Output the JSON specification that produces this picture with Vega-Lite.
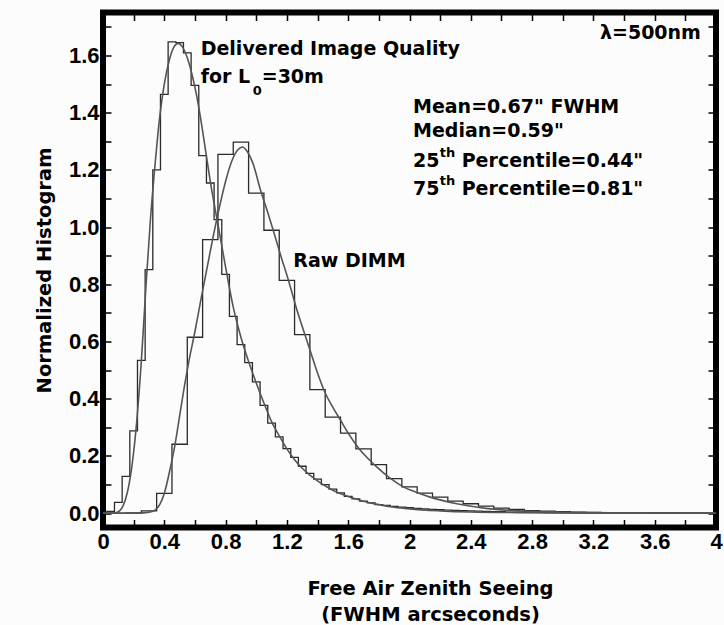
{
  "$schema": "https://vega.github.io/schema/vega-lite/v6.json",
  "width": 613,
  "height": 515,
  "autosize": {"type": "none"},
  "padding": {"left": 103, "top": 12.5, "right": 8, "bottom": 97.5},
  "background": "#fcfcfc",
  "config": {
    "view": {"stroke": "#000000", "strokeWidth": 6, "fill": "#fcfcfc"},
    "axis": {
      "grid": false,
      "domain": false,
      "tickColor": "#000000",
      "tickWidth": 1.5,
      "tickSize": -8,
      "labelFont": "Liberation Sans",
      "labelFontWeight": "bold",
      "labelFontSize": 22,
      "labelColor": "#000000",
      "labelFlush": false,
      "labelOverlap": false,
      "labelPadding": 12,
      "titleFont": "DejaVu Sans",
      "titleFontWeight": "bold",
      "titleFontSize": 19.5,
      "titleColor": "#000000"
    }
  },
  "datasets": {
    "hist": [
      {"s": "delivered", "x": 0.00, "h": 0.000},
      {"s": "delivered", "x": 0.05, "h": 0.006},
      {"s": "delivered", "x": 0.10, "h": 0.038},
      {"s": "delivered", "x": 0.15, "h": 0.129},
      {"s": "delivered", "x": 0.20, "h": 0.288},
      {"s": "delivered", "x": 0.25, "h": 0.534},
      {"s": "delivered", "x": 0.30, "h": 0.851},
      {"s": "delivered", "x": 0.35, "h": 1.200},
      {"s": "delivered", "x": 0.40, "h": 1.464},
      {"s": "delivered", "x": 0.45, "h": 1.647},
      {"s": "delivered", "x": 0.50, "h": 1.645},
      {"s": "delivered", "x": 0.55, "h": 1.609},
      {"s": "delivered", "x": 0.60, "h": 1.495},
      {"s": "delivered", "x": 0.65, "h": 1.250},
      {"s": "delivered", "x": 0.70, "h": 1.154},
      {"s": "delivered", "x": 0.75, "h": 1.026},
      {"s": "delivered", "x": 0.80, "h": 0.835},
      {"s": "delivered", "x": 0.85, "h": 0.688},
      {"s": "delivered", "x": 0.90, "h": 0.589},
      {"s": "delivered", "x": 0.95, "h": 0.526},
      {"s": "delivered", "x": 1.00, "h": 0.459},
      {"s": "delivered", "x": 1.05, "h": 0.377},
      {"s": "delivered", "x": 1.10, "h": 0.315},
      {"s": "delivered", "x": 1.15, "h": 0.267},
      {"s": "delivered", "x": 1.20, "h": 0.226},
      {"s": "delivered", "x": 1.25, "h": 0.195},
      {"s": "delivered", "x": 1.30, "h": 0.164},
      {"s": "delivered", "x": 1.35, "h": 0.139},
      {"s": "delivered", "x": 1.40, "h": 0.119},
      {"s": "delivered", "x": 1.45, "h": 0.100},
      {"s": "delivered", "x": 1.50, "h": 0.084},
      {"s": "delivered", "x": 1.55, "h": 0.071},
      {"s": "delivered", "x": 1.60, "h": 0.059},
      {"s": "delivered", "x": 1.65, "h": 0.050},
      {"s": "delivered", "x": 1.70, "h": 0.042},
      {"s": "delivered", "x": 1.75, "h": 0.036},
      {"s": "delivered", "x": 1.80, "h": 0.030},
      {"s": "delivered", "x": 1.85, "h": 0.027},
      {"s": "delivered", "x": 1.90, "h": 0.024},
      {"s": "delivered", "x": 1.95, "h": 0.021},
      {"s": "delivered", "x": 2.00, "h": 0.019},
      {"s": "delivered", "x": 2.05, "h": 0.017},
      {"s": "delivered", "x": 2.10, "h": 0.015},
      {"s": "delivered", "x": 2.15, "h": 0.013},
      {"s": "delivered", "x": 2.20, "h": 0.012},
      {"s": "delivered", "x": 2.25, "h": 0.011},
      {"s": "delivered", "x": 2.30, "h": 0.010},
      {"s": "delivered", "x": 2.35, "h": 0.009},
      {"s": "delivered", "x": 2.40, "h": 0.008},
      {"s": "delivered", "x": 2.45, "h": 0.007},
      {"s": "delivered", "x": 2.50, "h": 0.006},
      {"s": "delivered", "x": 2.55, "h": 0.005},
      {"s": "delivered", "x": 2.60, "h": 0.005},
      {"s": "delivered", "x": 2.65, "h": 0.004},
      {"s": "delivered", "x": 2.70, "h": 0.004},
      {"s": "delivered", "x": 2.75, "h": 0.003},
      {"s": "delivered", "x": 2.80, "h": 0.003},
      {"s": "delivered", "x": 2.85, "h": 0.003},
      {"s": "delivered", "x": 2.90, "h": 0.002},
      {"s": "delivered", "x": 2.95, "h": 0.002},
      {"s": "delivered", "x": 3.00, "h": 0.002},
      {"s": "delivered", "x": 3.05, "h": 0.002},
      {"s": "delivered", "x": 3.10, "h": 0.001},
      {"s": "delivered", "x": 3.15, "h": 0.001},
      {"s": "delivered", "x": 3.20, "h": 0.001},
      {"s": "delivered", "x": 3.25, "h": 0.001},
      {"s": "delivered", "x": 3.30, "h": 0.001},
      {"s": "delivered", "x": 3.35, "h": 0.001},
      {"s": "delivered", "x": 3.40, "h": 0.001},
      {"s": "delivered", "x": 3.45, "h": 0.001},
      {"s": "delivered", "x": 3.50, "h": 0.001},
      {"s": "delivered", "x": 3.55, "h": 0.000},
      {"s": "delivered", "x": 3.60, "h": 0.000},
      {"s": "delivered", "x": 3.65, "h": 0.000},
      {"s": "delivered", "x": 3.70, "h": 0.000},
      {"s": "delivered", "x": 3.75, "h": 0.000},
      {"s": "delivered", "x": 3.80, "h": 0.000},
      {"s": "delivered", "x": 3.85, "h": 0.000},
      {"s": "delivered", "x": 3.90, "h": 0.000},
      {"s": "delivered", "x": 3.95, "h": 0.000},
      {"s": "delivered", "x": 4.00, "h": 0.000},
      {"s": "raw", "x": 0.0, "h": 0.000},
      {"s": "raw", "x": 0.1, "h": 0.000},
      {"s": "raw", "x": 0.2, "h": 0.001},
      {"s": "raw", "x": 0.3, "h": 0.008},
      {"s": "raw", "x": 0.4, "h": 0.069},
      {"s": "raw", "x": 0.5, "h": 0.241},
      {"s": "raw", "x": 0.6, "h": 0.615},
      {"s": "raw", "x": 0.7, "h": 0.956},
      {"s": "raw", "x": 0.8, "h": 1.254},
      {"s": "raw", "x": 0.9, "h": 1.297},
      {"s": "raw", "x": 1.0, "h": 1.119},
      {"s": "raw", "x": 1.1, "h": 0.989},
      {"s": "raw", "x": 1.2, "h": 0.814},
      {"s": "raw", "x": 1.3, "h": 0.624},
      {"s": "raw", "x": 1.4, "h": 0.432},
      {"s": "raw", "x": 1.5, "h": 0.336},
      {"s": "raw", "x": 1.6, "h": 0.280},
      {"s": "raw", "x": 1.7, "h": 0.225},
      {"s": "raw", "x": 1.8, "h": 0.170},
      {"s": "raw", "x": 1.9, "h": 0.121},
      {"s": "raw", "x": 2.0, "h": 0.092},
      {"s": "raw", "x": 2.1, "h": 0.070},
      {"s": "raw", "x": 2.2, "h": 0.056},
      {"s": "raw", "x": 2.3, "h": 0.042},
      {"s": "raw", "x": 2.4, "h": 0.033},
      {"s": "raw", "x": 2.5, "h": 0.025},
      {"s": "raw", "x": 2.6, "h": 0.018},
      {"s": "raw", "x": 2.7, "h": 0.013},
      {"s": "raw", "x": 2.8, "h": 0.009},
      {"s": "raw", "x": 2.9, "h": 0.007},
      {"s": "raw", "x": 3.0, "h": 0.005},
      {"s": "raw", "x": 3.1, "h": 0.004},
      {"s": "raw", "x": 3.2, "h": 0.003},
      {"s": "raw", "x": 3.3, "h": 0.002},
      {"s": "raw", "x": 3.4, "h": 0.002},
      {"s": "raw", "x": 3.5, "h": 0.001},
      {"s": "raw", "x": 3.6, "h": 0.001},
      {"s": "raw", "x": 3.7, "h": 0.001},
      {"s": "raw", "x": 3.8, "h": 0.000},
      {"s": "raw", "x": 3.9, "h": 0.000},
      {"s": "raw", "x": 4.0, "h": 0.000}
    ],
    "fit": [
      {"s": "delivered", "x": 0.00, "h": 0.000},
      {"s": "delivered", "x": 0.07, "h": 0.000},
      {"s": "delivered", "x": 0.10, "h": 0.005},
      {"s": "delivered", "x": 0.13, "h": 0.025},
      {"s": "delivered", "x": 0.16, "h": 0.075},
      {"s": "delivered", "x": 0.19, "h": 0.170},
      {"s": "delivered", "x": 0.22, "h": 0.320},
      {"s": "delivered", "x": 0.25, "h": 0.530},
      {"s": "delivered", "x": 0.28, "h": 0.790},
      {"s": "delivered", "x": 0.31, "h": 1.030},
      {"s": "delivered", "x": 0.34, "h": 1.220},
      {"s": "delivered", "x": 0.37, "h": 1.385},
      {"s": "delivered", "x": 0.40, "h": 1.500},
      {"s": "delivered", "x": 0.43, "h": 1.578},
      {"s": "delivered", "x": 0.46, "h": 1.626},
      {"s": "delivered", "x": 0.49, "h": 1.642},
      {"s": "delivered", "x": 0.52, "h": 1.628},
      {"s": "delivered", "x": 0.55, "h": 1.592},
      {"s": "delivered", "x": 0.58, "h": 1.535},
      {"s": "delivered", "x": 0.61, "h": 1.462},
      {"s": "delivered", "x": 0.64, "h": 1.370},
      {"s": "delivered", "x": 0.67, "h": 1.265},
      {"s": "delivered", "x": 0.70, "h": 1.160},
      {"s": "delivered", "x": 0.75, "h": 1.010},
      {"s": "delivered", "x": 0.80, "h": 0.860},
      {"s": "delivered", "x": 0.85, "h": 0.720},
      {"s": "delivered", "x": 0.90, "h": 0.615},
      {"s": "delivered", "x": 0.95, "h": 0.530},
      {"s": "delivered", "x": 1.00, "h": 0.455},
      {"s": "delivered", "x": 1.05, "h": 0.385},
      {"s": "delivered", "x": 1.10, "h": 0.320},
      {"s": "delivered", "x": 1.15, "h": 0.270},
      {"s": "delivered", "x": 1.20, "h": 0.225},
      {"s": "delivered", "x": 1.25, "h": 0.187},
      {"s": "delivered", "x": 1.30, "h": 0.157},
      {"s": "delivered", "x": 1.35, "h": 0.133},
      {"s": "delivered", "x": 1.40, "h": 0.113},
      {"s": "delivered", "x": 1.50, "h": 0.080},
      {"s": "delivered", "x": 1.60, "h": 0.058},
      {"s": "delivered", "x": 1.70, "h": 0.042},
      {"s": "delivered", "x": 1.80, "h": 0.030},
      {"s": "delivered", "x": 1.90, "h": 0.021},
      {"s": "delivered", "x": 2.00, "h": 0.015},
      {"s": "delivered", "x": 2.20, "h": 0.008},
      {"s": "delivered", "x": 2.40, "h": 0.004},
      {"s": "delivered", "x": 2.70, "h": 0.002},
      {"s": "delivered", "x": 3.00, "h": 0.001},
      {"s": "delivered", "x": 3.50, "h": 0.000},
      {"s": "delivered", "x": 4.00, "h": 0.000},
      {"s": "raw", "x": 0.00, "h": 0.000},
      {"s": "raw", "x": 0.20, "h": 0.000},
      {"s": "raw", "x": 0.28, "h": 0.002},
      {"s": "raw", "x": 0.33, "h": 0.008},
      {"s": "raw", "x": 0.37, "h": 0.030},
      {"s": "raw", "x": 0.40, "h": 0.069},
      {"s": "raw", "x": 0.44, "h": 0.160},
      {"s": "raw", "x": 0.47, "h": 0.240},
      {"s": "raw", "x": 0.50, "h": 0.340},
      {"s": "raw", "x": 0.53, "h": 0.440},
      {"s": "raw", "x": 0.56, "h": 0.530},
      {"s": "raw", "x": 0.60, "h": 0.635},
      {"s": "raw", "x": 0.64, "h": 0.750},
      {"s": "raw", "x": 0.68, "h": 0.860},
      {"s": "raw", "x": 0.72, "h": 0.970},
      {"s": "raw", "x": 0.76, "h": 1.070},
      {"s": "raw", "x": 0.80, "h": 1.160},
      {"s": "raw", "x": 0.84, "h": 1.230},
      {"s": "raw", "x": 0.88, "h": 1.270},
      {"s": "raw", "x": 0.91, "h": 1.280},
      {"s": "raw", "x": 0.94, "h": 1.265},
      {"s": "raw", "x": 0.98, "h": 1.220},
      {"s": "raw", "x": 1.03, "h": 1.125},
      {"s": "raw", "x": 1.07, "h": 1.060},
      {"s": "raw", "x": 1.11, "h": 0.990},
      {"s": "raw", "x": 1.16, "h": 0.900},
      {"s": "raw", "x": 1.21, "h": 0.814},
      {"s": "raw", "x": 1.26, "h": 0.720},
      {"s": "raw", "x": 1.32, "h": 0.620},
      {"s": "raw", "x": 1.36, "h": 0.555},
      {"s": "raw", "x": 1.40, "h": 0.490},
      {"s": "raw", "x": 1.45, "h": 0.420},
      {"s": "raw", "x": 1.50, "h": 0.370},
      {"s": "raw", "x": 1.55, "h": 0.325},
      {"s": "raw", "x": 1.60, "h": 0.280},
      {"s": "raw", "x": 1.67, "h": 0.226},
      {"s": "raw", "x": 1.77, "h": 0.170},
      {"s": "raw", "x": 1.88, "h": 0.120},
      {"s": "raw", "x": 1.96, "h": 0.092},
      {"s": "raw", "x": 2.04, "h": 0.074},
      {"s": "raw", "x": 2.13, "h": 0.057},
      {"s": "raw", "x": 2.30, "h": 0.034},
      {"s": "raw", "x": 2.50, "h": 0.017},
      {"s": "raw", "x": 2.71, "h": 0.008},
      {"s": "raw", "x": 3.00, "h": 0.003},
      {"s": "raw", "x": 3.50, "h": 0.001},
      {"s": "raw", "x": 4.00, "h": 0.000}
    ],
    "notes": [
      {"t": "Delivered Image Quality", "x": 0.6375, "y": 1.601},
      {"t": "for L", "x": 0.6375, "y": 1.503},
      {"t": "=30m", "x": 1.0356, "y": 1.503},
      {"t": "λ=500nm", "x": 3.243, "y": 1.656},
      {"t": "Mean=0.67\" FWHM", "x": 2.0228, "y": 1.397},
      {"t": "Median=0.59\"", "x": 2.0228, "y": 1.315},
      {"t": "25", "x": 2.0228, "y": 1.211},
      {"t": "Percentile=0.44\"", "x": 2.3406, "y": 1.211},
      {"t": "75", "x": 2.0228, "y": 1.111},
      {"t": "Percentile=0.81\"", "x": 2.3406, "y": 1.111},
      {"t": "Raw DIMM", "x": 1.2418, "y": 0.8588}
    ],
    "small": [
      {"t": "0", "x": 0.977, "y": 1.461},
      {"t": "th", "x": 2.198, "y": 1.244},
      {"t": "th", "x": 2.198, "y": 1.1465}
    ]
  },
  "layer": [
    {
      "data": {"name": "hist"},
      "mark": {"type": "line", "interpolate": "step", "color": "#2a2a2a", "strokeWidth": 1.3},
      "encoding": {
        "x": {
          "field": "x", "type": "quantitative",
          "scale": {"domain": [0, 4], "nice": false, "zero": false},
          "axis": {
            "orient": "bottom",
            "values": [0, 0.2, 0.4, 0.6, 0.8, 1, 1.2, 1.4, 1.6, 1.8, 2, 2.2, 2.4, 2.6, 2.8, 3, 3.2, 3.4, 3.6, 3.8, 4],
            "labelExpr": "round(datum.value * 5) % 2 === 0 ? format(datum.value, '~g') : ''",
            "title": ["Free Air Zenith Seeing", "(FWHM arcseconds)"],
            "titleX": 327,
            "titleY": 67,
            "titleAlign": "center",
            "titleBaseline": "alphabetic",
            "titleLineHeight": 26
          }
        },
        "y": {
          "field": "h", "type": "quantitative",
          "scale": {"domain": [-0.05, 1.75], "nice": false, "zero": false},
          "axis": {
            "orient": "left",
            "values": [0, 0.1, 0.2, 0.3, 0.4, 0.5, 0.6, 0.7, 0.8, 0.9, 1, 1.1, 1.2, 1.3, 1.4, 1.5, 1.6, 1.7],
            "labelExpr": "round(datum.value * 10) % 2 === 0 ? format(datum.value, '.1f') : ''",
            "title": "Normalized Histogram",
            "titleX": -53,
            "titleY": 257.5,
            "titleAngle": 270,
            "titleAlign": "center",
            "titleBaseline": "alphabetic"
          }
        },
        "detail": {"field": "s", "type": "nominal"}
      }
    },
    {
      "data": {"name": "fit"},
      "mark": {"type": "line", "interpolate": "monotone", "color": "#555555", "strokeWidth": 1.6},
      "encoding": {
        "x": {
          "field": "x", "type": "quantitative",
          "axis": {
            "orient": "top",
            "values": [0, 0.2, 0.4, 0.6, 0.8, 1, 1.2, 1.4, 1.6, 1.8, 2, 2.2, 2.4, 2.6, 2.8, 3, 3.2, 3.4, 3.6, 3.8, 4],
            "labels": false,
            "title": null
          }
        },
        "y": {
          "field": "h", "type": "quantitative",
          "axis": {
            "orient": "right",
            "values": [0, 0.1, 0.2, 0.3, 0.4, 0.5, 0.6, 0.7, 0.8, 0.9, 1, 1.1, 1.2, 1.3, 1.4, 1.5, 1.6, 1.7],
            "labels": false,
            "title": null
          }
        },
        "detail": {"field": "s", "type": "nominal"}
      }
    },
    {
      "data": {"name": "notes"},
      "mark": {"type": "text", "align": "left", "baseline": "alphabetic", "font": "DejaVu Sans", "fontWeight": "bold", "fontSize": 19, "color": "#000000"},
      "encoding": {
        "x": {"field": "x", "type": "quantitative", "axis": null},
        "y": {"field": "y", "type": "quantitative", "axis": null},
        "text": {"field": "t", "type": "nominal"}
      }
    },
    {
      "data": {"name": "small"},
      "mark": {"type": "text", "align": "left", "baseline": "alphabetic", "font": "DejaVu Sans", "fontWeight": "bold", "fontSize": 13, "color": "#000000"},
      "encoding": {
        "x": {"field": "x", "type": "quantitative", "axis": null},
        "y": {"field": "y", "type": "quantitative", "axis": null},
        "text": {"field": "t", "type": "nominal"}
      }
    }
  ],
  "resolve": {"axis": {"x": "independent", "y": "independent"}}
}
